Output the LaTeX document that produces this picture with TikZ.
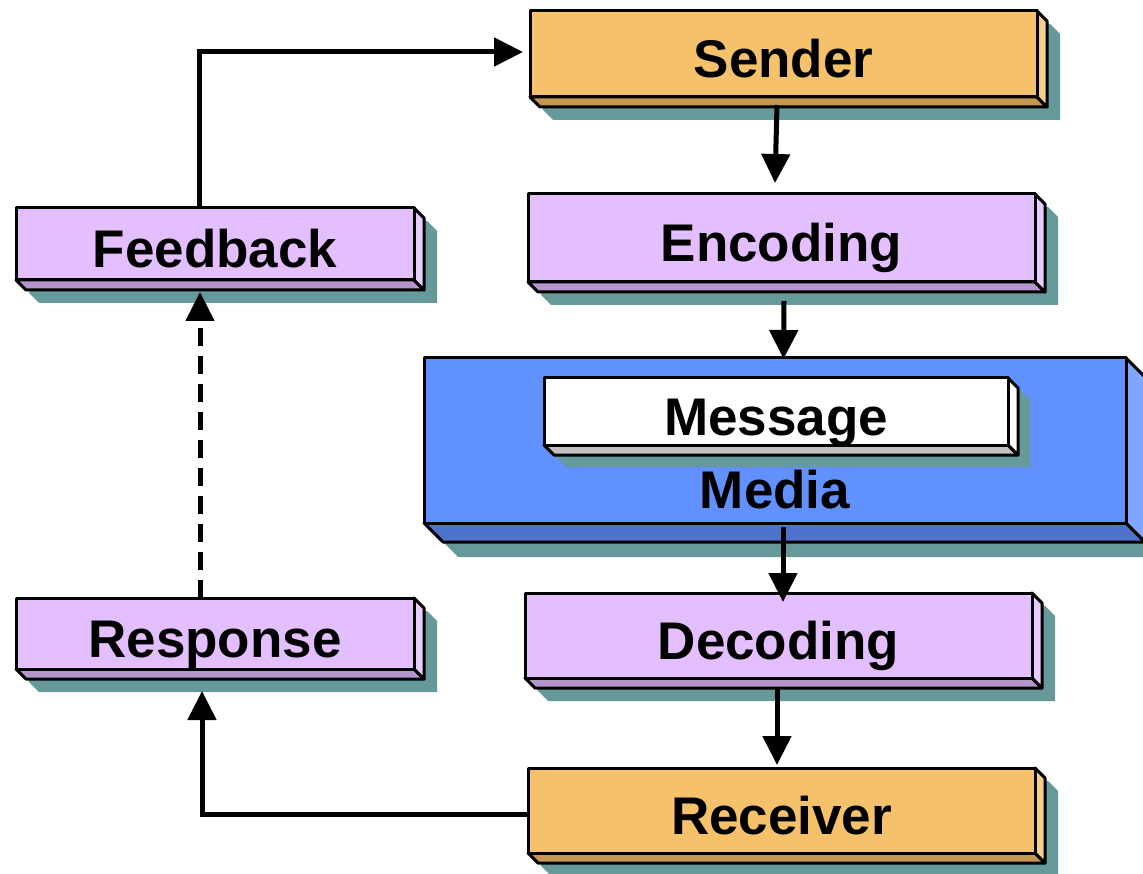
\documentclass[tikz,border=0pt]{standalone}
\usepackage{fontspec}
\setmainfont{Liberation Sans}
\usetikzlibrary{arrows.meta}

\definecolor{castshadow}{HTML}{669999}
\definecolor{orangeF}{HTML}{F5C26B}
\definecolor{orangeB}{HTML}{C4964F}
\definecolor{orangeS}{HTML}{F7CF8A}
\definecolor{lilacF}{HTML}{E3BFFF}
\definecolor{lilacB}{HTML}{B596CC}
\definecolor{lilacS}{HTML}{E8CCFF}
\definecolor{blueF}{HTML}{6190FF}
\definecolor{blueB}{HTML}{4D73CC}
\definecolor{blueS}{HTML}{80A6FF}
\definecolor{greyB}{HTML}{C0C0C0}

\tikzset{
  edge/.style={line width=3pt, line join=round},
  front/.style={draw, edge, inner sep=0pt, outer sep=0pt, anchor=north west},
  lbl/.style={font=\bfseries\fontsize{53}{60}\selectfont, inner sep=0pt, anchor=base},
  flow/.style={line width=5pt, -{Triangle[length=29pt,width=28pt]}},
}

% Extruded slab: #1 name, #2 left, #3 top, #4 right, #5 bottom,
% #6 front colour, #7 lower face colour, #8 side face colour.
% \dd is the extrusion depth, \ss the extra offset of the cast shadow.
\newcommand\slab[8]{%
  \fill[castshadow] (#2+\ss,#3+\ss) -- (#4+\ss,#3+\ss) -- (#4+\dd+\ss,#3+\dd+\ss)
    -- (#4+\dd+\ss,#5+\dd+\ss) -- (#2+\dd+\ss,#5+\dd+\ss) -- (#2+\ss,#5+\ss) -- cycle;
  \filldraw[edge, fill=#7] (#2,#5) -- (#4,#5) -- (#4+\dd,#5+\dd) -- (#2+\dd,#5+\dd) -- cycle;
  \filldraw[edge, fill=#8] (#4,#3) -- (#4+\dd,#3+\dd) -- (#4+\dd,#5+\dd) -- (#4,#5) -- cycle;
  \node[front, fill=#6, minimum width={(#4-#2)*1pt}, minimum height={(#5-#3)*1pt}] (#1) at (#2,#3) {};
}

\begin{document}
\begin{tikzpicture}[x=1pt, y=-1pt]
\useasboundingbox (0,0) rectangle (1143,874);
\clip (0,0) rectangle (1143,874);

\def\dd{10}\def\ss{13}
\slab{sender}{530}{11}{1037}{97}{orangeF}{orangeB}{orangeS}
\slab{encoding}{528}{194}{1035}{282}{lilacF}{lilacB}{lilacS}
\slab{decoding}{525}{593}{1032}{678}{lilacF}{lilacB}{lilacS}
\slab{receiver}{528}{768}{1035}{853}{orangeF}{orangeB}{orangeS}
\slab{feedback}{16}{208}{414}{280}{lilacF}{lilacB}{lilacS}
\slab{response}{16}{598}{414}{669}{lilacF}{lilacB}{lilacS}

\def\dd{19}\def\ss{15}
\slab{media}{424}{358}{1126}{523}{blueF}{blueB}{blueS}
\def\dd{10}\def\ss{12}
\slab{message}{544}{378}{1008}{445}{white}{greyB}{white}

% labels
\node[lbl] (sender-t)   at ([yshift=-24pt]sender.center)   {Sender};
\node[lbl] (encoding-t) at ([yshift=-24pt]encoding.center) {Encoding};
\node[lbl] (message-t)  at ([yshift=-24pt]message.center)  {Message};
\node[lbl] (media-t)    at (775,508)                       {Media};
\node[lbl] (decoding-t) at ([yshift=-24pt]decoding.center) {Decoding};
\node[lbl] (receiver-t) at ([yshift=-24pt]receiver.center) {Receiver};
\node[lbl] (feedback-t) at ([yshift=-24pt]feedback.center) {Feedback};
\node[lbl] (response-t) at ([yshift=-24pt]response.center) {Response};

% flow of the message
\draw[flow] ([xshift=-6.5pt,yshift=-8pt]sender.south) -- ([xshift=-6.5pt,yshift=11pt]encoding.north);
\draw[flow] ([xshift=2.5pt,yshift=-19pt]encoding.south) -- ([xshift=8.5pt,yshift=-1pt]media.north);
\draw[flow] ([xshift=8pt,yshift=-4pt]media.south) -- ([xshift=4.5pt,yshift=-9pt]decoding.north);
\draw[flow] ([xshift=-1.5pt,yshift=-9pt]decoding.south) -- ([xshift=-4.5pt,yshift=3pt]receiver.north);

% return path
\draw[flow] ([yshift=-3.5pt]receiver.west) -| ([xshift=-13pt,yshift=-22pt]response.south);
\draw[flow, dash pattern=on 18pt off 10pt] ([xshift=-15pt]response.north) -- ([xshift=-15pt,yshift=-12pt]feedback.south);
\draw[flow, line join=miter] ([xshift=-16pt]feedback.north) |- ([xshift=-7pt,yshift=2pt]sender.west);
\end{tikzpicture}
\end{document}
